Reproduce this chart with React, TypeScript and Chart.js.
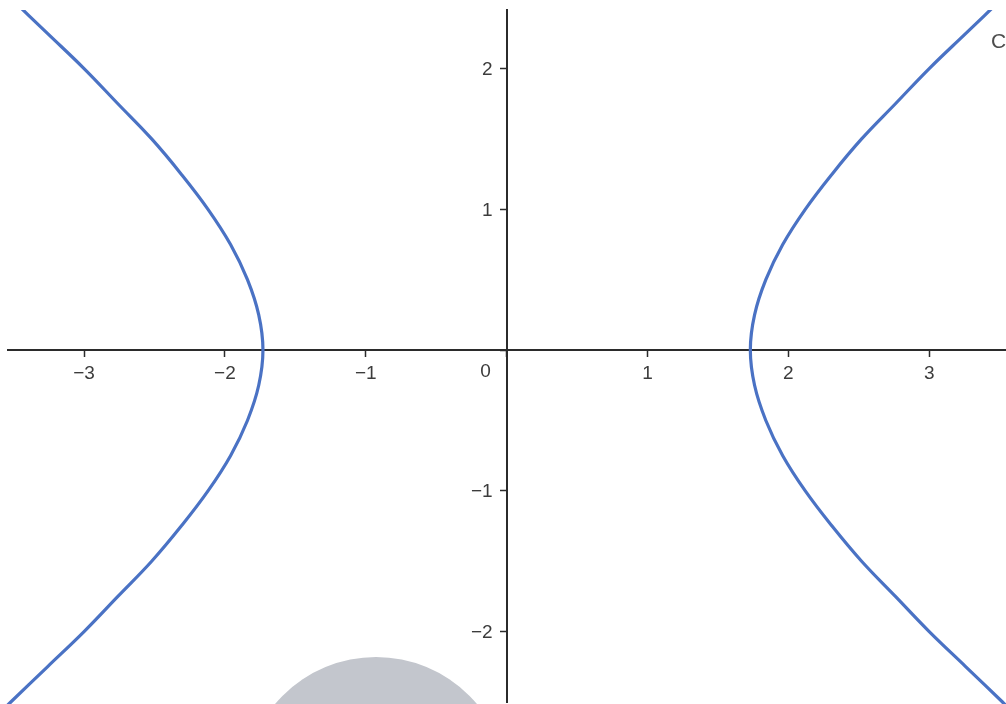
import React, { useEffect, useRef } from "react";
import { Chart, registerables } from "chart.js";

Chart.register(...registerables);

// Points (hyperbola branches), ordered top to bottom
const branchY = [2.6, 2.5, 2.25, 2, 1.75, 1.5, 1.25, 1, 0.75, 0.5, 0.25, 0, -0.25, -0.5, -0.75, -1, -1.25, -1.5, -1.75, -2, -2.25, -2.5, -2.6];
const rightX = [3.62, 3.52, 3.26, 3.0, 2.76, 2.52, 2.31, 2.12, 1.96, 1.84, 1.76, 1.73, 1.76, 1.84, 1.96, 2.12, 2.31, 2.52, 2.76, 3.0, 3.26, 3.52, 3.62];
const leftX = [-3.62, -3.52, -3.26, -3.0, -2.76, -2.52, -2.31, -2.12, -1.96, -1.84, -1.76, -1.73, -1.76, -1.84, -1.96, -2.12, -2.31, -2.52, -2.76, -3.0, -3.26, -3.52, -3.62];

const xTicks = [-3, -2, -1, 0, 1, 2, 3];
const yTicks = [-2, -1, 0, 1, 2];
const curveLabel = "C";
const originLabel = "0";

const FONT = "'Liberation Sans', Arial, sans-serif";
const TEXT = "#3c3c3c";
const AXIS = "#2b2b2b";
const CURVE = "#4a72c4";

const fmt = (v: number) => (v === 0 ? "" : v < 0 ? "\u2212" + Math.abs(v) : String(v));

const extras = {
  id: "extras",
  afterDraw(chart: any) {
    const ctx = chart.ctx;
    const xs = chart.scales.x;
    const ys = chart.scales.y;
    const ax = xs.getPixelForValue(0);
    const ay = ys.getPixelForValue(0);
    ctx.save();
    ctx.font = `19px ${FONT}`;
    ctx.fillStyle = TEXT;
    // y tick labels, left of the vertical axis
    ctx.textAlign = "right";
    ctx.textBaseline = "middle";
    for (const v of yTicks) {
      const t = fmt(v);
      if (t) ctx.fillText(t, ax - 14, ys.getPixelForValue(v) + 1);
    }
    // origin label
    ctx.textAlign = "center";
    ctx.fillText(originLabel, ax - 21, ay + 22);
    // curve label
    ctx.font = `21px ${FONT}`;
    ctx.fillStyle = "#4d4d4d";
    ctx.textAlign = "left";
    ctx.textBaseline = "alphabetic";
    ctx.fillText(curveLabel, 991, 48);
    // grey overlay disc at bottom
    ctx.fillStyle = "#c3c6cd";
    ctx.beginPath();
    ctx.arc(376, 789, 132, 0, Math.PI * 2);
    ctx.fill();
    ctx.restore();
  },
};

const noPad = (scale: any) => {
  scale.paddingTop = 0;
  scale.paddingBottom = 0;
  scale.paddingLeft = 0;
  scale.paddingRight = 0;
};

export default function App() {
  const ref = useRef<HTMLCanvasElement>(null);
  useEffect(() => {
    if (!ref.current) return;
    const mk = (label: string, xsArr: number[]) => ({
      label,
      data: branchY.map((y, i) => ({ x: xsArr[i], y })),
      showLine: true,
      borderColor: CURVE,
      borderWidth: 3.2,
      pointRadius: 0,
      tension: 0.4,
      clip: { left: 8, top: 0, right: 0, bottom: 2 } as any,
    });
    const chart = new Chart(ref.current, {
      type: "scatter",
      data: { datasets: [mk("right", rightX), mk("left", leftX)] },
      options: {
        responsive: false,
        animation: false,
        layout: { padding: { left: 8, top: 10, right: 0, bottom: 2 } },
        plugins: { legend: { display: false }, tooltip: { enabled: false } },
        scales: {
          x: {
            type: "linear",
            position: { y: 0 } as any,
            min: -3.54,
            max: 3.545,
            afterFit: noPad,
            afterBuildTicks: (s: any) => {
              s.ticks = xTicks.map((v) => ({ value: v }));
            },
            ticks: {
              includeBounds: false,
              autoSkip: false,
              maxRotation: 0,
              padding: 6,
              color: TEXT,
              font: { size: 19, family: FONT },
              callback: (v: any) => fmt(Number(v)),
            },
            grid: { drawOnChartArea: false, drawTicks: true, tickLength: 6, tickColor: AXIS, tickWidth: 1.5 },
            border: { display: true, color: AXIS, width: 2 },
          },
          y: {
            type: "linear",
            position: { x: 0 } as any,
            min: -2.5,
            max: 2.416,
            afterFit: noPad,
            afterBuildTicks: (s: any) => {
              s.ticks = yTicks.map((v) => ({ value: v }));
            },
            ticks: { display: false },
            grid: { drawOnChartArea: false, drawTicks: true, tickLength: 6, tickColor: AXIS, tickWidth: 1.5 },
            border: { display: true, color: AXIS, width: 2 },
          },
        },
      },
      plugins: [extras],
    });
    return () => chart.destroy();
  }, []);
  return (
    <div style={{ position: "fixed", left: 0, top: 0, width: 1006, height: 704, background: "#fff" }}>
      <canvas ref={ref} width={1006} height={704} style={{ display: "block" }} />
    </div>
  );
}
